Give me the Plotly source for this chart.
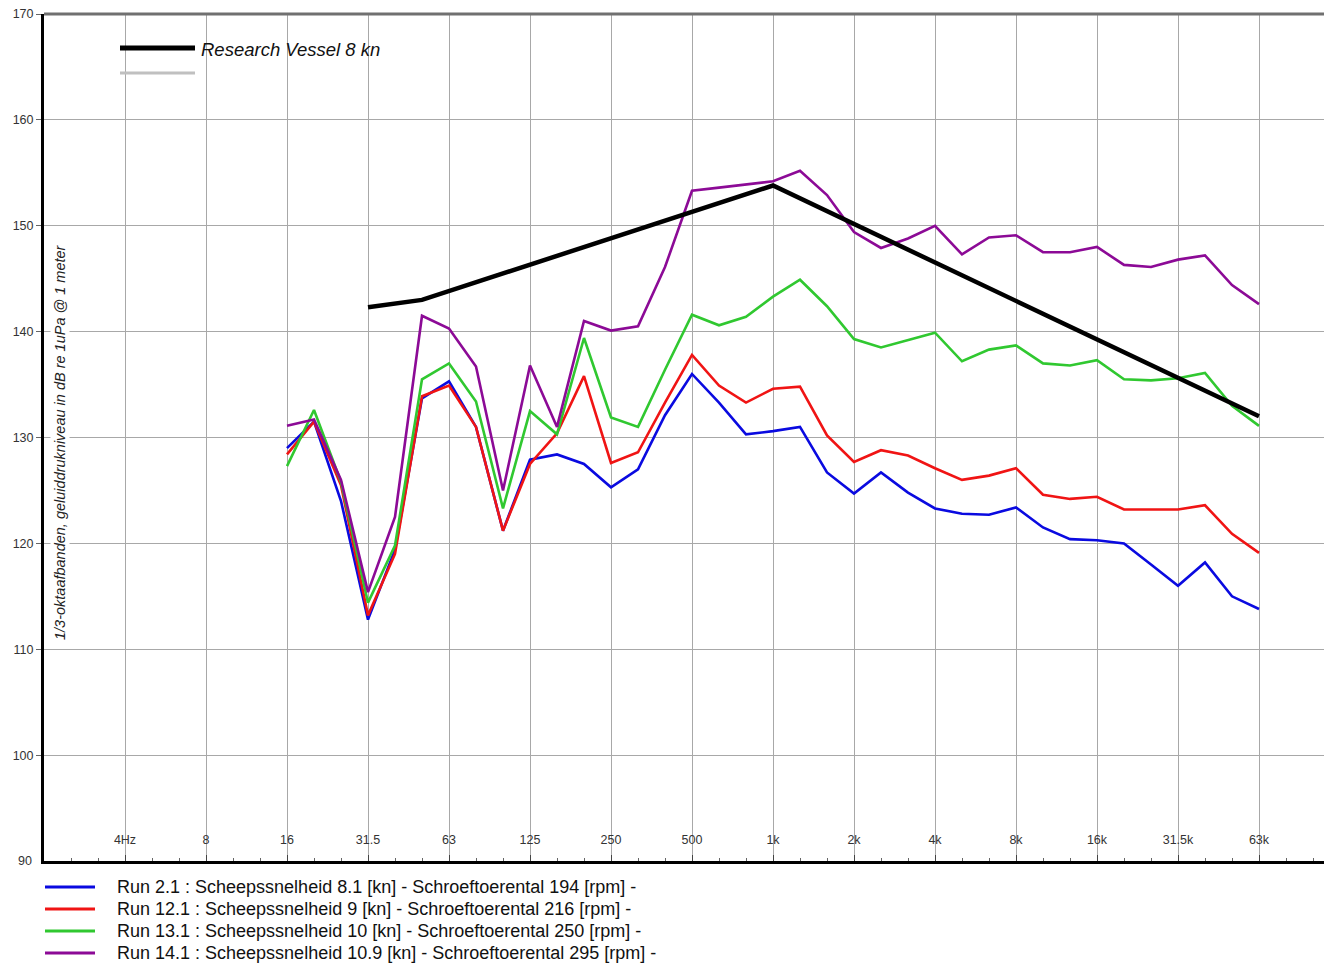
import plotly.graph_objects as go

# 1/3-octave band labels (16 Hz .. 63 kHz) and their IEC band numbers (16 Hz = band 12)
band_labels = ["16", "20", "25", "31.5", "40", "50", "63", "80", "100", "125", "160", "200",
               "250", "315", "400", "500", "630", "800", "1k", "1.25k", "1.6k", "2k", "2.5k",
               "3.15k", "4k", "5k", "6.3k", "8k", "10k", "12.5k", "16k", "20k", "25k", "31.5k",
               "40k", "50k", "63k"]
band_numbers = [12 + i for i in range(len(band_labels))]

run_2_1 = [129.0, 131.5, 124.0, 112.8, 119.4, 133.7, 135.3, 131.0, 121.2, 127.9, 128.4, 127.5,
           125.3, 127.0, 132.1, 136.0, 133.3, 130.3, 130.6, 131.0, 126.7, 124.7, 126.7,
           124.8, 123.3, 122.8, 122.7, 123.4, 121.5, 120.4, 120.3, 120.0, 118.0, 116.0,
           118.2, 115.0, 113.8]
run_12_1 = [128.4, 131.5, 125.5, 113.2, 119.0, 133.9, 134.9, 131.0, 121.2, 127.5, 130.4, 135.8,
            127.6, 128.6, 133.3, 137.8, 134.9, 133.3, 134.6, 134.8, 130.2, 127.7, 128.8,
            128.3, 127.1, 126.0, 126.4, 127.1, 124.6, 124.2, 124.4, 123.2, 123.2, 123.2,
            123.6, 120.9, 119.1]
run_13_1 = [127.3, 132.6, 125.8, 114.4, 119.8, 135.5, 137.0, 133.4, 123.3, 132.5, 130.3, 139.4,
            131.9, 131.0, 136.4, 141.6, 140.6, 141.4, 143.3, 144.9, 142.4, 139.3, 138.5,
            139.2, 139.9, 137.2, 138.3, 138.7, 137.0, 136.8, 137.3, 135.5, 135.4, 135.6,
            136.1, 133.0, 131.1]
run_14_1 = [131.1, 131.7, 126.0, 115.4, 122.5, 141.5, 140.3, 136.7, 125.0, 136.8, 131.0, 141.0,
            140.1, 140.5, 146.1, 153.3, 153.6, 153.9, 154.2, 155.2, 152.9, 149.4, 147.9,
            148.8, 150.0, 147.3, 148.9, 149.1, 147.5, 147.5, 148.0, 146.3, 146.1, 146.8,
            147.2, 144.4, 142.6]

# Research Vessel 8 kn reference curve
rv_bands = [15, 17, 30, 48]          # 31.5 Hz, 50 Hz, 1 kHz, 63 kHz
rv_levels = [142.3, 143.0, 153.8, 132.0]

# octave tick positions (band numbers) and labels
tick_bands = [6, 9, 12, 15, 18, 21, 24, 27, 30, 33, 36, 39, 42, 45, 48]
tick_labels = ["4Hz", "8", "16", "31.5", "63", "125", "250", "500", "1k", "2k", "4k",
               "8k", "16k", "31.5k", "63k"]
y_ticks = [90, 100, 110, 120, 130, 140, 150, 160, 170]

series_names = [
    "Run 2.1 : Scheepssnelheid 8.1 [kn] - Schroeftoerental 194 [rpm] -",
    "Run 12.1 : Scheepssnelheid 9 [kn] - Schroeftoerental 216 [rpm] -",
    "Run 13.1 : Scheepssnelheid 10 [kn] - Schroeftoerental 250 [rpm] -",
    "Run 14.1 : Scheepssnelheid 10.9 [kn] - Schroeftoerental 295 [rpm] -",
]
series_values = [run_2_1, run_12_1, run_13_1, run_14_1]
series_colors = ["#0a0ae0", "#f01414", "#30c830", "#8c0a96"]

FONT = "Liberation Sans, Arial, sans-serif"

fig = go.Figure()
for name, vals, col in zip(series_names, series_values, series_colors):
    fig.add_trace(go.Scatter(x=band_numbers, y=vals, mode="lines", name=name,
                             line=dict(color=col, width=2.6), showlegend=False))

fig.add_trace(go.Scatter(x=rv_bands, y=rv_levels, mode="lines", name="Research Vessel 8 kn",
                         line=dict(color="black", width=4.5), showlegend=False))

W, H = 1324, 964
ml, mt, mb, mr = 44, 14, 103, 0
pw, ph = W - ml - mr, H - mt - mb


def px(x):
    return (x - ml) / pw


def py(y):
    return (H - mb - y) / ph


shapes = [
    # white band behind the inside x tick labels (hides grid there)
    dict(type="rect", xref="paper", yref="paper", x0=0, x1=1, y0=py(851), y1=py(829),
         fillcolor="white", line=dict(width=0), layer="between"),
    # top border
    dict(type="line", xref="paper", yref="paper", x0=0, x1=1, y0=1, y1=1,
         line=dict(color="#707070", width=3)),
    # top-left legend samples
    dict(type="line", xref="paper", yref="paper", x0=px(120), x1=px(195), y0=py(48), y1=py(48),
         line=dict(color="black", width=5)),
    dict(type="line", xref="paper", yref="paper", x0=px(120), x1=px(195), y0=py(73), y1=py(73),
         line=dict(color="#c0c0c0", width=3)),
]

annotations = [
    dict(text="<i>Research Vessel 8 kn</i>", xref="paper", yref="paper", x=px(199), y=py(50),
         xanchor="left", yanchor="middle", showarrow=False,
         font=dict(family=FONT, size=18.5, color="#111")),
    dict(text="<i>1/3-oktaafbanden, geluiddrukniveau in dB re 1uPa @ 1 meter</i>",
         xref="paper", yref="paper", x=px(60), y=py(442), textangle=-90,
         xanchor="center", yanchor="middle", showarrow=False, bgcolor="white",
         font=dict(family=FONT, size=14.5, color="#222")),
    # lowest y tick label (plotly hides it at the axis corner)
    dict(text=str(y_ticks[0]), xref="paper", yref="y", x=0, y=y_ticks[0], xshift=-10,
         xanchor="right", yanchor="middle", showarrow=False,
         font=dict(family=FONT, size=12.5, color="#333")),
]

# bottom legend (line sample + text per series)
for i, (name, col) in enumerate(zip(series_names, series_colors)):
    yc = 887 + 22 * i
    shapes.append(dict(type="line", xref="paper", yref="paper", x0=px(45), x1=px(95),
                       y0=py(yc), y1=py(yc), line=dict(color=col, width=3)))
    annotations.append(dict(text=name, xref="paper", yref="paper", x=px(115), y=py(yc),
                            xanchor="left", yanchor="middle", showarrow=False,
                            font=dict(family=FONT, size=18, color="#111")))

fig.update_layout(
    width=W, height=H,
    margin=dict(l=ml, r=mr, t=mt, b=mb, pad=0, autoexpand=False),
    plot_bgcolor="white", paper_bgcolor="white",
    font=dict(family=FONT, size=12, color="#333"),
    shapes=shapes, annotations=annotations,
    showlegend=False,
    xaxis=dict(range=[3, 3 + pw / 27.0], tickmode="array", tickvals=tick_bands,
               ticktext=tick_labels, ticks="inside", ticklen=6, tickcolor="#444",
               ticklabelposition="inside", ticklabelstandoff=8,
               showgrid=True, gridcolor="#a8a8a8", gridwidth=1,
               showline=True, linecolor="black", linewidth=3, zeroline=False,
               minor=dict(tickmode="linear", tick0=3, dtick=1, ticks="inside", ticklen=3,
                          tickcolor="#666", showgrid=False),
               tickfont=dict(size=12.5, color="#333")),
    yaxis=dict(range=[90, 170], tickmode="array", tickvals=y_ticks,
               ticktext=[str(v) for v in y_ticks], ticks="outside", ticklen=5,
               tickcolor="#666", showgrid=True, gridcolor="#a8a8a8", gridwidth=1,
               showline=True, linecolor="black", linewidth=3, zeroline=False,
               tickfont=dict(size=12.5, color="#333")),
)

fig.write_html("out.html", config={"displayModeBar": False},
               post_script="document.body.style.margin='0';")
